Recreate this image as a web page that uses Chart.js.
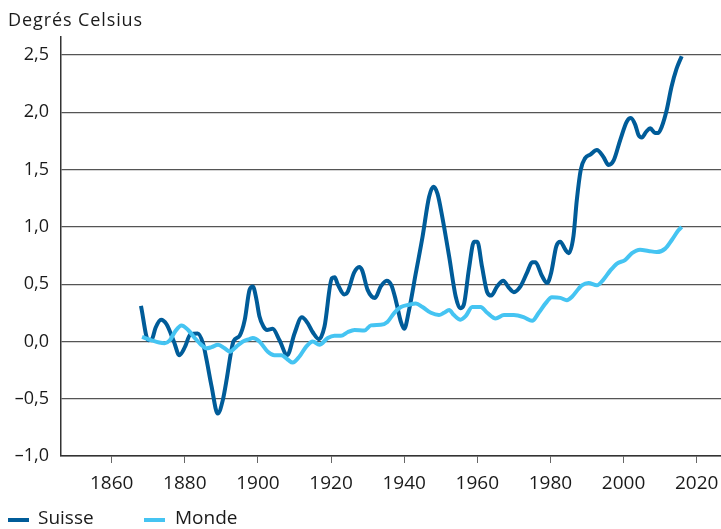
<!DOCTYPE html>
<html lang="fr">
<head>
<meta charset="utf-8">
<title>Degrés Celsius</title>
<script src="https://cdn.jsdelivr.net/npm/chart.js@4"></script>
<style>
    body { margin: 0; background: #fff; }
    #wrap { position: relative; width: 721px; height: 529px; font-family: 'Open Sans', sans-serif; color: #1a1a1a; }
    #chart { position: absolute; left: 0; top: 0; }
    .unit { position: absolute; left: 8px; top: 10px; font-size: 18px; line-height: 18px; letter-spacing: 0.9px; }
    .swatch { position: absolute; top: 518px; width: 21px; height: 4px; }
    .legend-label { position: absolute; top: 508px; font-size: 19px; line-height: 19px; }
</style>
</head>
<body>
<div id="wrap">
    <canvas id="chart" width="721" height="529"></canvas>
    <div class="unit">Degrés Celsius</div>
    <div class="swatch" style="left: 8px; background: #005c99;"></div>
    <div class="legend-label" style="left: 38px;">Suisse</div>
    <div class="swatch" style="left: 144px; background: #45c4f2;"></div>
    <div class="legend-label" style="left: 175px;">Monde</div>
</div>
<script>
// Swiss and global temperature anomalies (smoothed)
const suisseYears = [1868, 1870, 1871, 1872, 1873.5, 1875, 1877, 1878.5, 1880, 1881.5, 1883.5, 1885, 1886, 1887.3, 1889,
    1890.4, 1891.5, 1892.5, 1893.3, 1895, 1896.4, 1897.7, 1898.6, 1899.5, 1900.4, 1901.5, 1902.5, 1904, 1905.9, 1908,
    1910, 1912, 1913.6, 1915, 1916.7, 1918.2, 1920.2, 1921, 1921.8, 1923.6, 1924.5, 1926.3, 1927.7, 1928.5, 1930,
    1932, 1933.6, 1935.2, 1936.5, 1937.7, 1939.1, 1940, 1941.3, 1943.2, 1945, 1946.8, 1948, 1949.1, 1950.4, 1952.3,
    1954.1, 1955.3, 1956.3, 1957.7, 1959.1, 1960, 1961.3, 1962.7, 1963.8, 1965.4, 1967.1, 1968.6, 1970, 1971.8, 1973.6,
    1975, 1975.9, 1977.7, 1979.1, 1980.2, 1981.6, 1982.7, 1984.1, 1985, 1986.3, 1987.2, 1988.3, 1989.5, 1990.9, 1992.7,
    1994.5, 1995.9, 1997.3, 1999.1, 2000.9, 2002, 2003.2, 2004.1, 2005, 2006.2, 2007.3, 2008.6, 2009.5, 2010.4, 2011.8,
    2013.1, 2014.5, 2015.9];
const suisseValues = [0.31, 0.01, 0.02, 0.12, 0.19, 0.15, 0.0, -0.12, -0.05, 0.06, 0.07, -0.02, -0.17, -0.39, -0.63,
    -0.51, -0.32, -0.12, 0.0, 0.05, 0.19, 0.45, 0.48, 0.38, 0.22, 0.13, 0.10, 0.11, 0.01, -0.12,
    0.07, 0.21, 0.16, 0.08, 0.02, 0.13, 0.55, 0.56, 0.50, 0.41, 0.43, 0.60, 0.65, 0.62, 0.45,
    0.38, 0.48, 0.53, 0.49, 0.36, 0.17, 0.11, 0.27, 0.60, 0.91, 1.26, 1.35, 1.29, 1.09, 0.74,
    0.39, 0.29, 0.32, 0.63, 0.87, 0.87, 0.65, 0.43, 0.40, 0.48, 0.53, 0.47, 0.43, 0.48, 0.60,
    0.69, 0.69, 0.57, 0.51, 0.60, 0.83, 0.87, 0.80, 0.77, 0.92, 1.23, 1.50, 1.60, 1.63, 1.67,
    1.61, 1.54, 1.58, 1.76, 1.92, 1.95, 1.89, 1.80, 1.78, 1.83, 1.86, 1.82, 1.82, 1.87, 2.02,
    2.22, 2.38, 2.49];

const mondeYears = [1868.3, 1870.9, 1873, 1874.5, 1875.9, 1877.3, 1879.1, 1880.9, 1882.7, 1884.5, 1885.9, 1887.3,
    1889.1, 1890.9, 1892.3, 1894.1, 1895.9, 1897.7, 1898.6, 1900.4, 1902.7, 1904.5, 1906.4, 1908.2, 1909.5, 1911.4,
    1913.2, 1915, 1916.8, 1919.1, 1920.9, 1922.7, 1924.5, 1926.4, 1929.1, 1930.9, 1933.6, 1935.4, 1937.3, 1939.1,
    1941.3, 1943.2, 1945, 1947.3, 1949.5, 1950.9, 1952.3, 1953.6, 1955.4, 1956.8, 1958.6, 1960.9, 1962.7, 1965,
    1967.3, 1970, 1972.8, 1975, 1976.8, 1978.6, 1980.4, 1982.7, 1984.5, 1985.9, 1987.7, 1988.6, 1990.4, 1992.7,
    1994.5, 1996.4, 1998.2, 2000.4, 2002.3, 2004.5, 2006.8, 2009.1, 2011.4, 2013.2, 2015, 2015.9];
const mondeValues = [0.04, 0.01, -0.01, -0.015, 0.01, 0.085, 0.14, 0.10, 0.03, -0.03, -0.06, -0.05,
    -0.03, -0.06, -0.09, -0.045, 0.0, 0.02, 0.03, 0.0, -0.09, -0.12, -0.12, -0.16, -0.185, -0.13,
    -0.045, 0.0, -0.03, 0.03, 0.05, 0.05, 0.08, 0.10, 0.095, 0.14, 0.145, 0.17, 0.25, 0.30,
    0.32, 0.33, 0.30, 0.25, 0.23, 0.25, 0.275, 0.23, 0.19, 0.22, 0.30, 0.30, 0.25, 0.20,
    0.23, 0.23, 0.21, 0.18, 0.25, 0.33, 0.385, 0.38, 0.36, 0.39, 0.46, 0.49, 0.51, 0.49,
    0.54, 0.62, 0.68, 0.71, 0.77, 0.80, 0.79, 0.78, 0.81, 0.885, 0.97, 1.0];

const xTicks = [1860, 1880, 1900, 1920, 1940, 1960, 1980, 2000, 2020];
const yTicks = [-1.0, -0.5, 0.0, 0.5, 1.0, 1.5, 2.0, 2.5];

const textColor = '#1a1a1a';

// French number format with a real minus sign
function formatValue(v) {
    const s = Math.abs(v).toFixed(1).replace('.', ',');
    return v < 0 ? '\u2013' + s : s;
}

function toPoints(years, values) {
    return years.map((year, i) => ({ x: year, y: values[i] }));
}

const ctx = document.getElementById('chart').getContext('2d');
new Chart(ctx, {
    type: 'line',
    data: {
        datasets: [
            {
                label: 'Monde',
                data: toPoints(mondeYears, mondeValues),
                borderColor: '#45c4f2',
                borderWidth: 4,
                pointRadius: 0,
                cubicInterpolationMode: 'monotone',
                order: 1
            },
            {
                label: 'Suisse',
                data: toPoints(suisseYears, suisseValues),
                borderColor: '#005c99',
                borderWidth: 4,
                pointRadius: 0,
                cubicInterpolationMode: 'monotone',
                order: 2
            }
        ]
    },
    options: {
        responsive: false,
        animation: false,
        layout: { padding: { top: 37, right: 0, bottom: 29, left: 0 } },
        plugins: {
            legend: { display: false },
            tooltip: { enabled: false }
        },
        scales: {
            x: {
                type: 'linear',
                min: 1846.13,
                max: 2026.65,
                afterBuildTicks: scale => { scale.ticks = xTicks.map(v => ({ value: v })); },
                // fixed height, and no extra room kept for the end labels
                afterFit: scale => {
                    scale.height = 44;
                    scale.paddingLeft = 0;
                    scale.paddingRight = 0;
                },
                grid: { drawOnChartArea: false, drawTicks: true, tickLength: 7, tickColor: '#666', tickWidth: 1 },
                border: { display: true, color: '#333', width: 1.5 },
                ticks: {
                    color: textColor,
                    font: { family: 'Open Sans', size: 19 },
                    padding: 9,
                    maxRotation: 0,
                    callback: v => String(v)
                }
            },
            y: {
                type: 'linear',
                min: -1.0,
                max: 2.657,
                afterBuildTicks: scale => { scale.ticks = yTicks.map(v => ({ value: v })); },
                afterFit: scale => {
                    scale.width = 61;
                    scale.paddingTop = 0;
                    scale.paddingBottom = 0;
                },
                grid: { color: '#555', lineWidth: 1.2, drawTicks: false },
                border: { display: true, color: '#333', width: 1.5 },
                ticks: {
                    color: textColor,
                    font: { family: 'Open Sans', size: 18 },
                    padding: 12,
                    callback: v => formatValue(v)
                }
            }
        }
    }
});
</script>
</body>
</html>
